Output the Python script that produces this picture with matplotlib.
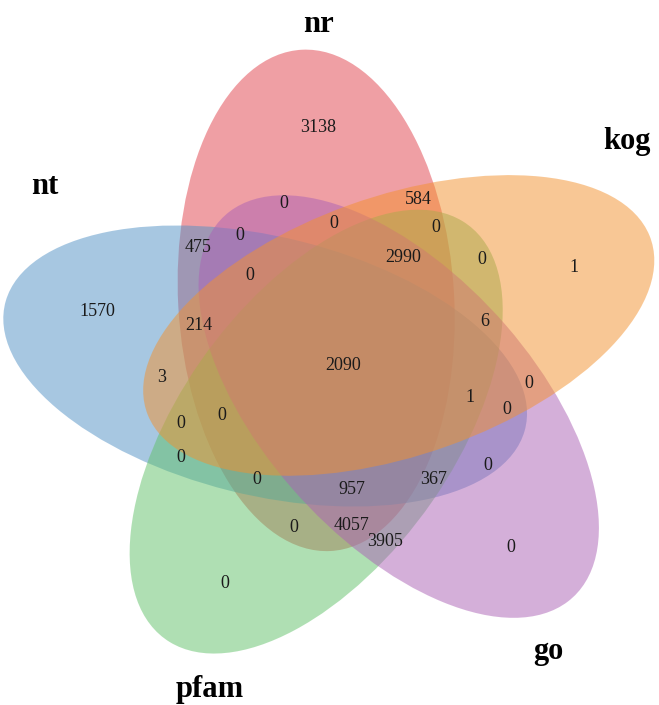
import matplotlib.pyplot as plt
from matplotlib.patches import Ellipse
import numpy as np

# five-way overlap of annotation databases
set_names = ["nr", "kog", "go", "pfam", "nt"]
set_colors = ["#E1414B", "#F3912D", "#AB61B5", "#61C169", "#5191C5"]
draw_order = ["nr", "nt", "pfam", "go", "kog"]

# counts for each overlap region
region_counts = [3138, 584, 0, 0, 0, 0, 475, 2990, 0, 0, 1, 1570, 214, 6,
                 2090, 3, 0, 1, 0, 0, 0, 0, 0, 0, 957, 367, 0, 4057, 3905,
                 0, 0]

# layout (pixels from the top-left corner)
count_pos = [(318, 128), (418, 199), (284, 204), (334, 224), (436, 228),
             (240, 236), (198, 248), (403, 257), (482, 259), (250, 275),
             (574, 268), (97, 311), (199, 326), (485, 322), (343, 365),
             (162, 378), (529, 383), (470, 397), (507, 410), (222, 415),
             (181, 423), (181, 458), (488, 465), (257, 480), (352, 489),
             (434, 480), (294, 528), (351, 526), (385, 541), (511, 547),
             (225, 583)]
name_pos = [(319, 24), (627, 142), (548, 652), (210, 690), (45, 186)]

W, H = 659, 705
CX, CY = 339, 366          # centre of the flower
STRETCH = 1.07             # horizontal stretch of the whole drawing
DIST, LONG, SHORT = 69, 251, 129
START, TILT = 108, 15


def at(x, y):
    return (x - CX) / STRETCH, CY - y


fig = plt.figure(figsize=(W / 100, H / 100), dpi=100)
ax = fig.add_axes([0, 0, 1, 1])
ax.set_xlim(-CX / STRETCH, (W - CX) / STRETCH)
ax.set_ylim(CY - H, CY)
ax.axis("off")

for name in draw_order:
    i = set_names.index(name)
    phi = START - 72 * i
    c = (DIST * np.cos(np.radians(phi)), DIST * np.sin(np.radians(phi)))
    ax.add_patch(Ellipse(c, 2 * LONG, 2 * SHORT, angle=phi - TILT,
                         facecolor=set_colors[i], edgecolor="none", alpha=0.5))

for n, (x, y) in zip(region_counts, count_pos):
    ax.text(*at(x, y), str(n), ha="center", va="center",
            family="Liberation Serif", fontsize=13, color="#1a1a1a")

for name, (x, y) in zip(set_names, name_pos):
    ax.text(*at(x, y), name, ha="center", va="center",
            family="Liberation Serif", fontweight="bold", fontsize=22)

fig.savefig("out.png", dpi=100)
